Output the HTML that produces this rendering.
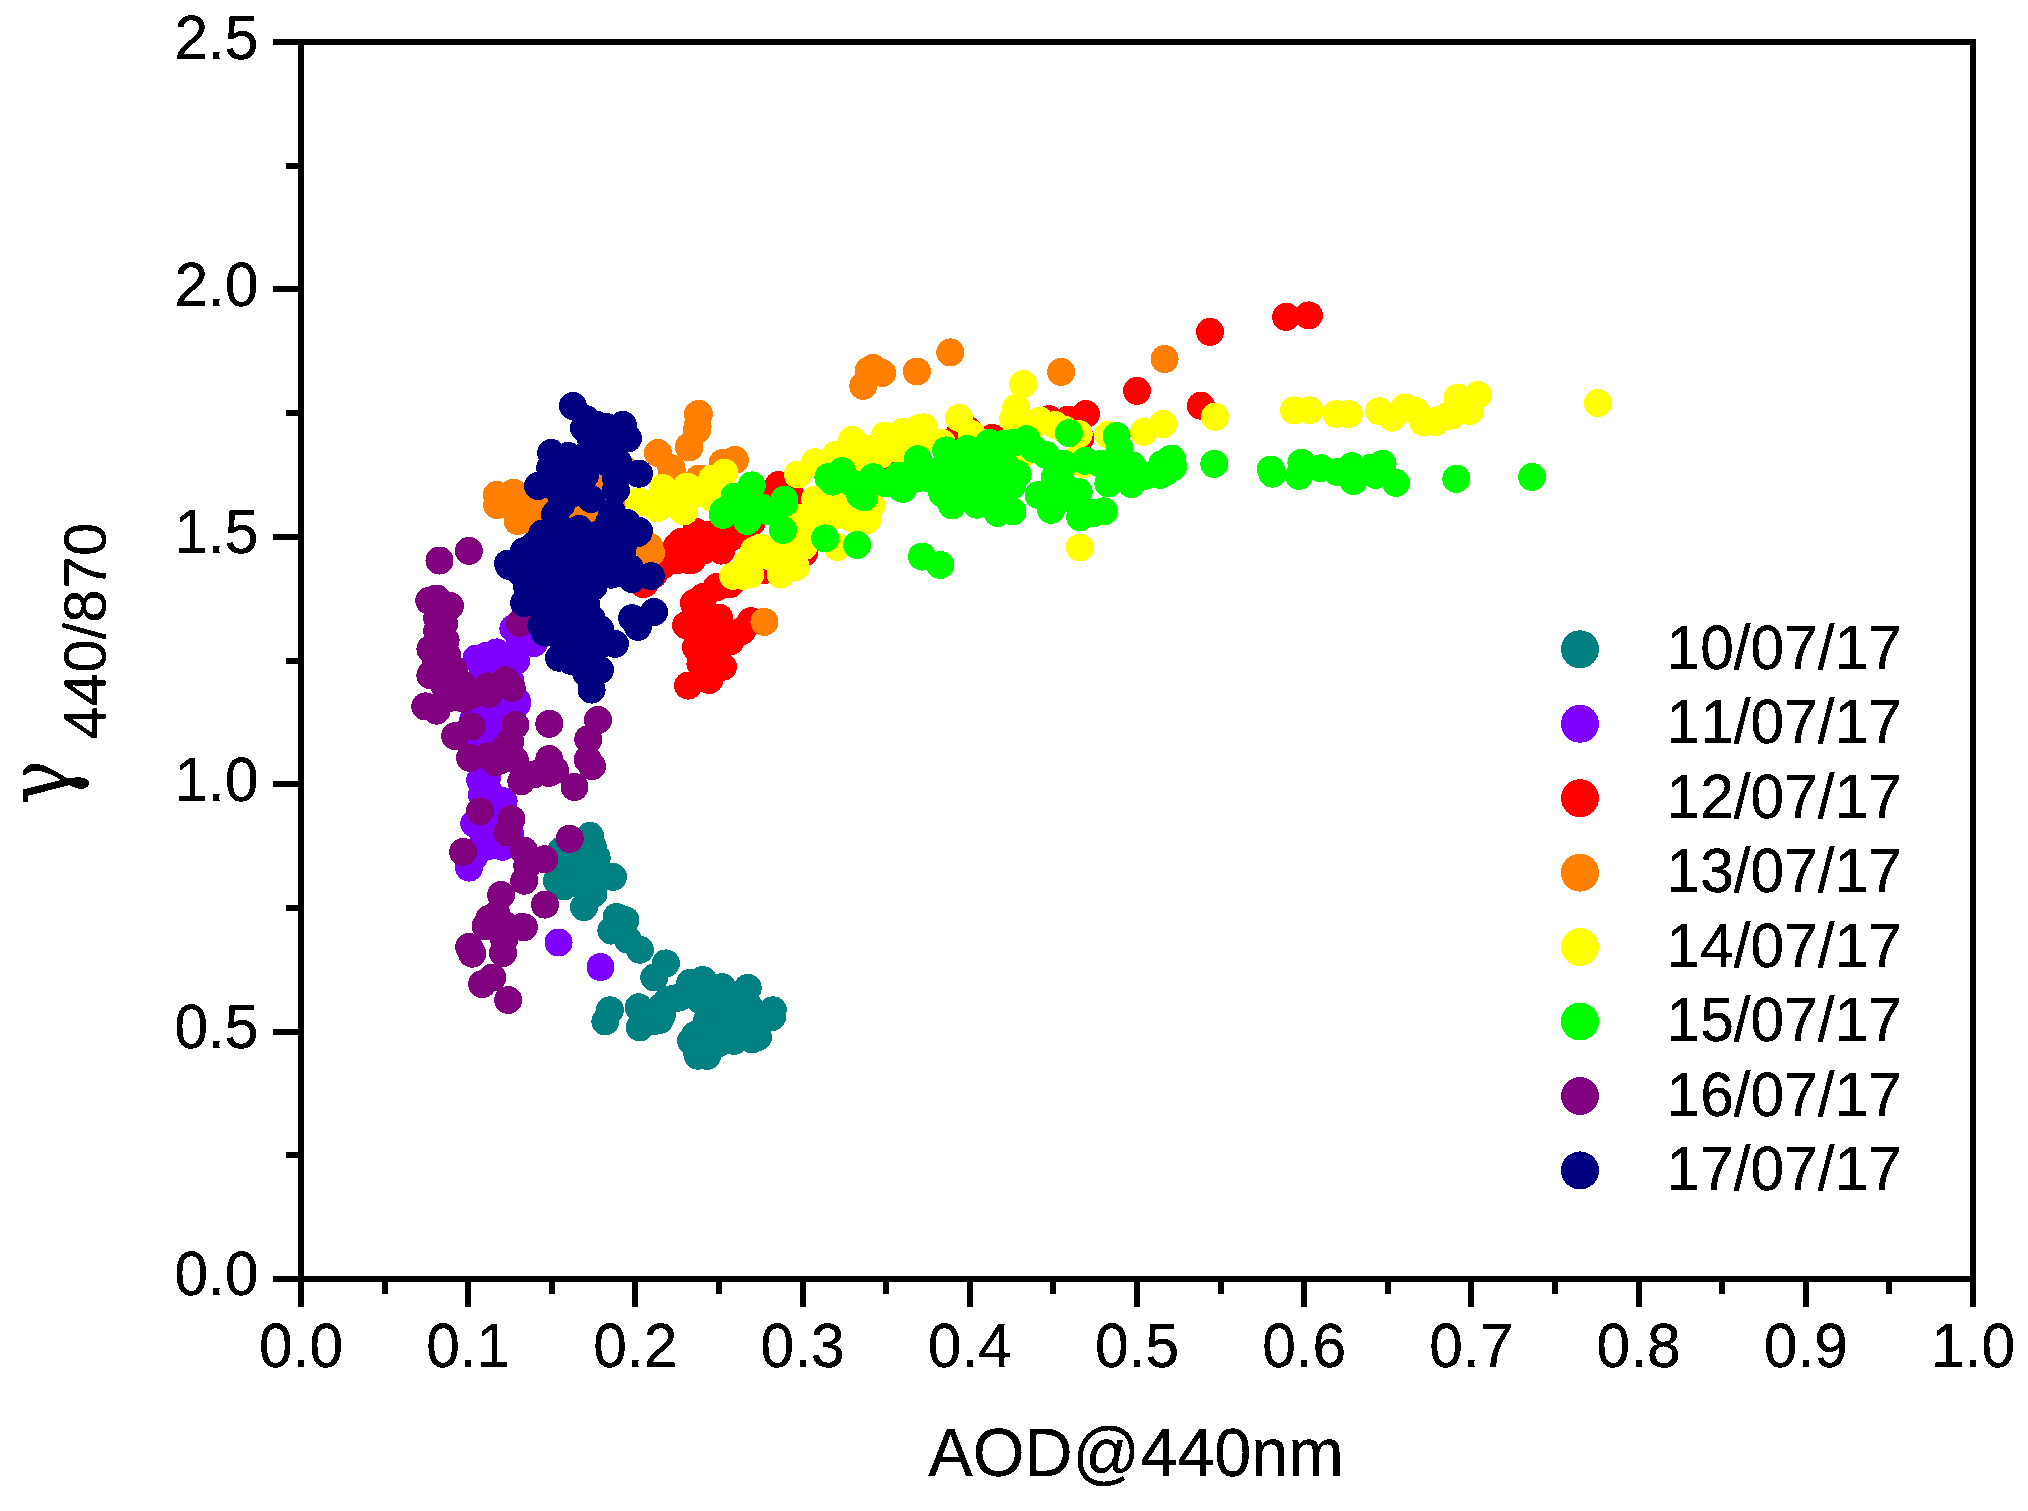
<!DOCTYPE html>
<html lang="en"><head><meta charset="utf-8"><title>AOD@440nm scatter</title>
<style>html,body{margin:0;padding:0;background:#fff}body{width:2028px;height:1511px;overflow:hidden}svg{display:block}text{font-family:"Liberation Sans",sans-serif;fill:#000;stroke:#000;stroke-width:0.3px;font-kerning:none;font-variant-ligatures:none}text.gm{font-family:"DejaVu Serif","Liberation Serif",serif}</style></head><body>
<svg width="2028" height="1511" viewBox="0 0 2028 1511" shape-rendering="crispEdges">
<rect width="2028" height="1511" fill="#fff"/>
<g fill="#008080">
<circle cx="580.9" cy="885.3" r="14"/><circle cx="563.8" cy="866.7" r="14"/><circle cx="590" cy="835.8" r="14"/><circle cx="592.8" cy="846.6" r="14"/><circle cx="596.7" cy="857.8" r="14"/><circle cx="613" cy="876.9" r="14"/><circle cx="556.9" cy="880.9" r="14"/><circle cx="561.5" cy="850.4" r="14"/><circle cx="563.8" cy="886.4" r="14"/><circle cx="584" cy="907.2" r="14"/><circle cx="593.5" cy="893.5" r="14"/><circle cx="578.7" cy="871.2" r="14"/><circle cx="571.2" cy="856.3" r="14"/><circle cx="578.7" cy="848.9" r="14"/><circle cx="575" cy="862" r="14"/><circle cx="600" cy="875" r="14"/><circle cx="616.6" cy="917" r="14"/><circle cx="625.5" cy="920.2" r="14"/><circle cx="611.4" cy="930.6" r="14"/><circle cx="639.8" cy="949.7" r="14"/><circle cx="627.8" cy="939.6" r="14"/><circle cx="665.9" cy="963.4" r="14"/><circle cx="654.3" cy="977.5" r="14"/><circle cx="609.9" cy="1010.3" r="14"/><circle cx="605.4" cy="1021.4" r="14"/><circle cx="638.7" cy="1007.3" r="14"/><circle cx="639.7" cy="1027.4" r="14"/><circle cx="653.1" cy="1021.4" r="14"/><circle cx="662" cy="1006.5" r="14"/><circle cx="672.4" cy="999.1" r="14"/><circle cx="690.3" cy="982.7" r="14"/><circle cx="691.3" cy="1041.5" r="14"/><circle cx="697.8" cy="1055.7" r="14"/><circle cx="702.7" cy="980" r="14"/><circle cx="690.8" cy="988" r="14"/><circle cx="722.1" cy="987.2" r="14"/><circle cx="747.7" cy="987.9" r="14"/><circle cx="772.8" cy="1010.3" r="14"/><circle cx="772" cy="1017" r="14"/><circle cx="758" cy="1037.1" r="14"/><circle cx="751.9" cy="1039.4" r="14"/><circle cx="740" cy="1037.8" r="14"/><circle cx="707.2" cy="1055.8" r="14"/><circle cx="717.6" cy="1043.8" r="14"/><circle cx="691" cy="1040.8" r="14"/><circle cx="696.8" cy="1051.2" r="14"/><circle cx="707" cy="1020.7" r="14"/><circle cx="695.3" cy="1034.8" r="14"/><circle cx="659.6" cy="1020" r="14"/><circle cx="667.7" cy="1000.3" r="14"/><circle cx="678.9" cy="997.6" r="14"/><circle cx="661.8" cy="1015.5" r="14"/><circle cx="719.1" cy="1006.5" r="14"/><circle cx="734" cy="999.1" r="14"/><circle cx="748.9" cy="1006.5" r="14"/><circle cx="731" cy="1021.4" r="14"/><circle cx="722.1" cy="1028.9" r="14"/><circle cx="734" cy="1040.8" r="14"/><circle cx="760" cy="1015" r="14"/><circle cx="745" cy="1022" r="14"/><circle cx="700" cy="1000" r="14"/>
</g>
<g fill="#8000ff">
<circle cx="482" cy="795" r="14"/><circle cx="475" cy="742" r="14"/><circle cx="483" cy="710" r="14"/><circle cx="476.5" cy="658.5" r="14"/><circle cx="486" cy="656" r="14"/><circle cx="513.4" cy="628.3" r="14"/><circle cx="496.8" cy="652.4" r="14"/><circle cx="534" cy="643.1" r="14"/><circle cx="517" cy="701.2" r="14"/><circle cx="516.1" cy="661" r="14"/><circle cx="492.3" cy="678.9" r="14"/><circle cx="483.4" cy="671.4" r="14"/><circle cx="496.8" cy="716.1" r="14"/><circle cx="483.4" cy="728" r="14"/><circle cx="492.3" cy="738.4" r="14"/><circle cx="473" cy="720.6" r="14"/><circle cx="520" cy="645" r="14"/><circle cx="505" cy="665" r="14"/><circle cx="500" cy="690" r="14"/><circle cx="510" cy="680" r="14"/><circle cx="517" cy="703.7" r="14"/><circle cx="492.3" cy="722.3" r="14"/><circle cx="483.4" cy="738.7" r="14"/><circle cx="480.2" cy="780.4" r="14"/><circle cx="486.9" cy="777.4" r="14"/><circle cx="503.6" cy="801.2" r="14"/><circle cx="489.3" cy="792.3" r="14"/><circle cx="474.3" cy="823.6" r="14"/><circle cx="483.4" cy="834" r="14"/><circle cx="489.3" cy="845.9" r="14"/><circle cx="502.7" cy="846.8" r="14"/><circle cx="510.2" cy="834.7" r="14"/><circle cx="469.1" cy="867.6" r="14"/><circle cx="474.4" cy="856.3" r="14"/><circle cx="483.4" cy="756.6" r="14"/><circle cx="485" cy="765" r="14"/><circle cx="495" cy="810" r="14"/><circle cx="490" cy="825" r="14"/><circle cx="558.6" cy="942.5" r="14"/><circle cx="600.5" cy="967.1" r="14"/>
</g>
<g fill="#ff0000">
<circle cx="1200.9" cy="405.7" r="14"/><circle cx="1068" cy="419.6" r="14"/><circle cx="1080.4" cy="438" r="14"/><circle cx="663" cy="565" r="14"/><circle cx="653.6" cy="574.7" r="14"/><circle cx="677" cy="560" r="14"/><circle cx="804" cy="553" r="14"/><circle cx="764" cy="570" r="14"/><circle cx="968" cy="430" r="14"/><circle cx="959" cy="435" r="14"/><circle cx="697" cy="532.5" r="14"/><circle cx="676.8" cy="546.7" r="14"/><circle cx="642.7" cy="583.9" r="14"/><circle cx="694" cy="603" r="14"/><circle cx="686.1" cy="625.3" r="14"/><circle cx="697" cy="649" r="14"/><circle cx="688.1" cy="685.6" r="14"/><circle cx="679.9" cy="547.9" r="14"/><circle cx="695.9" cy="531.9" r="14"/><circle cx="676.6" cy="550.6" r="14"/><circle cx="681.8" cy="541.7" r="14"/><circle cx="690" cy="560.3" r="14"/><circle cx="692.2" cy="559.6" r="14"/><circle cx="703.4" cy="550.6" r="14"/><circle cx="751.8" cy="522.3" r="14"/><circle cx="731.7" cy="537.2" r="14"/><circle cx="716.8" cy="544.7" r="14"/><circle cx="721.2" cy="550.6" r="14"/><circle cx="644.6" cy="583.7" r="14"/><circle cx="716.8" cy="587.1" r="14"/><circle cx="703.4" cy="596.8" r="14"/><circle cx="730.2" cy="584.1" r="14"/><circle cx="694.4" cy="604.2" r="14"/><circle cx="719" cy="617.6" r="14"/><circle cx="751" cy="621.2" r="14"/><circle cx="742.1" cy="631" r="14"/><circle cx="730.2" cy="641.4" r="14"/><circle cx="695.9" cy="647.4" r="14"/><circle cx="722.9" cy="666.7" r="14"/><circle cx="700.4" cy="663.8" r="14"/><circle cx="709.3" cy="680" r="14"/><circle cx="703.4" cy="619.1" r="14"/><circle cx="709.3" cy="634" r="14"/><circle cx="716.8" cy="648.9" r="14"/><circle cx="700.4" cy="634" r="14"/><circle cx="709.3" cy="663.8" r="14"/><circle cx="770" cy="500" r="14"/><circle cx="740" cy="528" r="14"/><circle cx="710" cy="535" r="14"/><circle cx="745" cy="515" r="14"/><circle cx="778.6" cy="485.1" r="14"/><circle cx="791.2" cy="496.5" r="14"/><circle cx="894" cy="469.7" r="14"/><circle cx="1137" cy="390.8" r="14"/><circle cx="1210" cy="331.8" r="14"/><circle cx="1085.8" cy="414" r="14"/><circle cx="1048.9" cy="419.1" r="14"/><circle cx="992.3" cy="437.9" r="14"/><circle cx="1286.2" cy="316.8" r="14"/><circle cx="1308.9" cy="315.4" r="14"/>
</g>
<g fill="#ff8000">
<circle cx="531.5" cy="499.1" r="14"/><circle cx="873.1" cy="368" r="14"/><circle cx="868.6" cy="370.7" r="14"/><circle cx="497.2" cy="505.1" r="14"/><circle cx="496.9" cy="494.9" r="14"/><circle cx="513.6" cy="492.8" r="14"/><circle cx="517.2" cy="515.2" r="14"/><circle cx="531.5" cy="520.5" r="14"/><circle cx="697.9" cy="414.5" r="14"/><circle cx="697" cy="430" r="14"/><circle cx="658" cy="452.9" r="14"/><circle cx="688.9" cy="446.7" r="14"/><circle cx="672" cy="471.7" r="14"/><circle cx="701.8" cy="478.9" r="14"/><circle cx="649.4" cy="546.7" r="14"/><circle cx="560" cy="470" r="14"/><circle cx="580" cy="480" r="14"/><circle cx="600" cy="490" r="14"/><circle cx="615" cy="500" r="14"/><circle cx="590" cy="515" r="14"/><circle cx="570" cy="505" r="14"/><circle cx="625" cy="470" r="14"/><circle cx="610" cy="480" r="14"/><circle cx="545" cy="500" r="14"/><circle cx="560" cy="520" r="14"/><circle cx="580" cy="467" r="14"/><circle cx="598" cy="485" r="14"/><circle cx="588" cy="517" r="14"/><circle cx="648.6" cy="547.9" r="14"/><circle cx="651" cy="553" r="14"/><circle cx="517.6" cy="521" r="14"/><circle cx="882.2" cy="373" r="14"/><circle cx="863.3" cy="385.8" r="14"/><circle cx="916.9" cy="371.5" r="14"/><circle cx="698.9" cy="413.9" r="14"/><circle cx="697.6" cy="426.5" r="14"/><circle cx="689.2" cy="447.5" r="14"/><circle cx="658.3" cy="453.2" r="14"/><circle cx="671.4" cy="468.2" r="14"/><circle cx="734.9" cy="460" r="14"/><circle cx="722.7" cy="463" r="14"/><circle cx="698.9" cy="478.7" r="14"/><circle cx="950.3" cy="352.4" r="14"/><circle cx="1061.1" cy="371.9" r="14"/><circle cx="1164.6" cy="359" r="14"/><circle cx="764.4" cy="621.9" r="14"/>
</g>
<g fill="#ffff00">
<circle cx="1163" cy="424" r="14"/><circle cx="1215" cy="416.7" r="14"/><circle cx="1084" cy="464" r="14"/><circle cx="852.2" cy="456.3" r="14"/><circle cx="831.4" cy="499.5" r="14"/><circle cx="670.6" cy="498" r="14"/><circle cx="768.9" cy="556" r="14"/><circle cx="662.5" cy="488" r="14"/><circle cx="686.3" cy="487.8" r="14"/><circle cx="638.7" cy="501.5" r="14"/><circle cx="656.5" cy="501.5" r="14"/><circle cx="681.5" cy="509.6" r="14"/><circle cx="684" cy="509.8" r="14"/><circle cx="733.1" cy="575.9" r="14"/><circle cx="743.6" cy="575.9" r="14"/><circle cx="750.4" cy="574.4" r="14"/><circle cx="780.8" cy="574.6" r="14"/><circle cx="795.7" cy="567" r="14"/><circle cx="754" cy="550.6" r="14"/><circle cx="768.9" cy="549.1" r="14"/><circle cx="791.2" cy="549.1" r="14"/><circle cx="804" cy="546.2" r="14"/><circle cx="837.4" cy="546.9" r="14"/><circle cx="867.1" cy="520.2" r="14"/><circle cx="871.6" cy="506" r="14"/><circle cx="813.5" cy="511.9" r="14"/><circle cx="835.9" cy="514.9" r="14"/><circle cx="850.8" cy="517.9" r="14"/><circle cx="798.7" cy="517.9" r="14"/><circle cx="761.4" cy="547.6" r="14"/><circle cx="783.8" cy="552.1" r="14"/><circle cx="806.1" cy="537.2" r="14"/><circle cx="791.2" cy="562.5" r="14"/><circle cx="746.5" cy="564" r="14"/><circle cx="663.2" cy="488.3" r="14"/><circle cx="687" cy="486.5" r="14"/><circle cx="724.2" cy="472.7" r="14"/><circle cx="712.3" cy="478.7" r="14"/><circle cx="639.4" cy="502.5" r="14"/><circle cx="703.4" cy="493.5" r="14"/><circle cx="712.3" cy="498" r="14"/><circle cx="684" cy="511.4" r="14"/><circle cx="657.2" cy="508.4" r="14"/><circle cx="797.9" cy="474.5" r="14"/><circle cx="815" cy="462.1" r="14"/><circle cx="852.2" cy="439.9" r="14"/><circle cx="885" cy="435.5" r="14"/><circle cx="902.9" cy="432.5" r="14"/><circle cx="919.2" cy="428" r="14"/><circle cx="835.9" cy="454.8" r="14"/><circle cx="867.1" cy="448.9" r="14"/><circle cx="815" cy="499.5" r="14"/><circle cx="870.7" cy="505.4" r="14"/><circle cx="843.3" cy="511.4" r="14"/><circle cx="867.1" cy="515.9" r="14"/><circle cx="828.4" cy="515.9" r="14"/><circle cx="830" cy="485" r="14"/><circle cx="850" cy="495" r="14"/><circle cx="860" cy="470" r="14"/><circle cx="880" cy="455" r="14"/><circle cx="900" cy="450" r="14"/><circle cx="810" cy="525" r="14"/><circle cx="1023.3" cy="384.1" r="14"/><circle cx="1016.1" cy="407.9" r="14"/><circle cx="1013.1" cy="419.1" r="14"/><circle cx="959" cy="417.9" r="14"/><circle cx="923.8" cy="427.3" r="14"/><circle cx="903" cy="431.8" r="14"/><circle cx="1039.9" cy="420.6" r="14"/><circle cx="1078.7" cy="434" r="14"/><circle cx="1108.4" cy="434.7" r="14"/><circle cx="1144.2" cy="431.9" r="14"/><circle cx="971.5" cy="434" r="14"/><circle cx="941.7" cy="442.9" r="14"/><circle cx="914.9" cy="448.9" r="14"/><circle cx="908.9" cy="434" r="14"/><circle cx="1022" cy="455" r="14"/><circle cx="1074" cy="461" r="14"/><circle cx="1055" cy="425" r="14"/><circle cx="1065" cy="430" r="14"/><circle cx="1030" cy="430" r="14"/><circle cx="1294" cy="410.4" r="14"/><circle cx="1309.6" cy="410.4" r="14"/><circle cx="1336.4" cy="414" r="14"/><circle cx="1348.8" cy="414" r="14"/><circle cx="1379.1" cy="411.3" r="14"/><circle cx="1392.2" cy="417.7" r="14"/><circle cx="1406.4" cy="408" r="14"/><circle cx="1416.1" cy="411" r="14"/><circle cx="1423.5" cy="422.2" r="14"/><circle cx="1438.4" cy="420" r="14"/><circle cx="1451.8" cy="415.5" r="14"/><circle cx="1457.8" cy="397.6" r="14"/><circle cx="1598" cy="403" r="14"/><circle cx="1478" cy="395" r="14"/><circle cx="1470" cy="411" r="14"/><circle cx="1447.6" cy="416.1" r="14"/><circle cx="1435.7" cy="422.1" r="14"/><circle cx="1404.5" cy="407.9" r="14"/><circle cx="1079.9" cy="547.5" r="14"/>
</g>
<g fill="#00ff00">
<circle cx="1270.9" cy="469.5" r="14"/><circle cx="1272.6" cy="473.6" r="14"/><circle cx="1162.2" cy="464.1" r="14"/><circle cx="1004" cy="444" r="14"/><circle cx="1094" cy="513" r="14"/><circle cx="860.2" cy="495" r="14"/><circle cx="970" cy="473" r="14"/><circle cx="1000" cy="477" r="14"/><circle cx="723" cy="514.9" r="14"/><circle cx="747.3" cy="521" r="14"/><circle cx="761.4" cy="507.4" r="14"/><circle cx="784.5" cy="503" r="14"/><circle cx="733.1" cy="503" r="14"/><circle cx="783" cy="529.9" r="14"/><circle cx="825.2" cy="538.4" r="14"/><circle cx="857.2" cy="545" r="14"/><circle cx="864.2" cy="497.2" r="14"/><circle cx="902.9" cy="488.8" r="14"/><circle cx="922.2" cy="556.6" r="14"/><circle cx="751.8" cy="485.4" r="14"/><circle cx="734.6" cy="496.5" r="14"/><circle cx="723.4" cy="511.4" r="14"/><circle cx="784.5" cy="499.8" r="14"/><circle cx="754" cy="508.4" r="14"/><circle cx="768.9" cy="511.4" r="14"/><circle cx="828.4" cy="477.2" r="14"/><circle cx="841.8" cy="471.2" r="14"/><circle cx="832.9" cy="481.6" r="14"/><circle cx="864.2" cy="496.5" r="14"/><circle cx="873.1" cy="477.2" r="14"/><circle cx="898.4" cy="475.7" r="14"/><circle cx="901.4" cy="488.3" r="14"/><circle cx="917.7" cy="459.3" r="14"/><circle cx="916.3" cy="478.7" r="14"/><circle cx="852.2" cy="483.1" r="14"/><circle cx="885" cy="483.1" r="14"/><circle cx="917.9" cy="459.3" r="14"/><circle cx="946.2" cy="450.4" r="14"/><circle cx="989.3" cy="442.9" r="14"/><circle cx="1026.5" cy="439.2" r="14"/><circle cx="1013.1" cy="442.9" r="14"/><circle cx="1069" cy="433.1" r="14"/><circle cx="1045.9" cy="454.8" r="14"/><circle cx="1116.6" cy="436.1" r="14"/><circle cx="1119.6" cy="448.9" r="14"/><circle cx="1085.4" cy="460.8" r="14"/><circle cx="1108.4" cy="483.4" r="14"/><circle cx="1131.5" cy="483.9" r="14"/><circle cx="1132.2" cy="465.3" r="14"/><circle cx="1170.2" cy="459.3" r="14"/><circle cx="1173.2" cy="466.7" r="14"/><circle cx="1159.8" cy="474.8" r="14"/><circle cx="1054.8" cy="477.2" r="14"/><circle cx="1017.6" cy="474.2" r="14"/><circle cx="1038.5" cy="495" r="14"/><circle cx="1078.7" cy="492.1" r="14"/><circle cx="1104" cy="511.4" r="14"/><circle cx="952.1" cy="505.4" r="14"/><circle cx="942.3" cy="493.5" r="14"/><circle cx="929.8" cy="478.7" r="14"/><circle cx="903" cy="488.3" r="14"/><circle cx="959.6" cy="463.8" r="14"/><circle cx="981.9" cy="463.8" r="14"/><circle cx="1004.2" cy="463.8" r="14"/><circle cx="967" cy="486.1" r="14"/><circle cx="989.3" cy="486.1" r="14"/><circle cx="1011.7" cy="486.1" r="14"/><circle cx="996.8" cy="500" r="14"/><circle cx="1063.8" cy="463.8" r="14"/><circle cx="937.2" cy="471.2" r="14"/><circle cx="967" cy="448.9" r="14"/><circle cx="1004.2" cy="448.9" r="14"/><circle cx="1034" cy="448.9" r="14"/><circle cx="1063.8" cy="486.1" r="14"/><circle cx="1056.3" cy="500" r="14"/><circle cx="1078.7" cy="505" r="14"/><circle cx="1101" cy="463.8" r="14"/><circle cx="1115.9" cy="466.7" r="14"/><circle cx="1145.6" cy="475.7" r="14"/><circle cx="945" cy="475" r="14"/><circle cx="980" cy="495" r="14"/><circle cx="1171.9" cy="458.6" r="14"/><circle cx="1166" cy="472" r="14"/><circle cx="1214.3" cy="463.9" r="14"/><circle cx="1301.4" cy="462.8" r="14"/><circle cx="1299.2" cy="475.8" r="14"/><circle cx="1320.8" cy="468.3" r="14"/><circle cx="1337.2" cy="472" r="14"/><circle cx="1352" cy="466.1" r="14"/><circle cx="1353.5" cy="481" r="14"/><circle cx="1371.4" cy="467.6" r="14"/><circle cx="1382.6" cy="463.9" r="14"/><circle cx="1375.9" cy="475" r="14"/><circle cx="1396" cy="482.8" r="14"/><circle cx="1456.3" cy="478.8" r="14"/><circle cx="1532.1" cy="476.9" r="14"/><circle cx="976.8" cy="504.7" r="14"/><circle cx="997.6" cy="512.9" r="14"/><circle cx="1012.5" cy="511.4" r="14"/><circle cx="1051.2" cy="509.9" r="14"/><circle cx="1080.2" cy="517.3" r="14"/><circle cx="1103.3" cy="511.4" r="14"/><circle cx="922" cy="556.5" r="14"/><circle cx="940.3" cy="565" r="14"/>
</g>
<g fill="#800080">
<circle cx="453.6" cy="670" r="14"/><circle cx="447" cy="655" r="14"/><circle cx="462" cy="684" r="14"/><circle cx="444" cy="624" r="14"/><circle cx="468.9" cy="550.9" r="14"/><circle cx="439.5" cy="560.5" r="14"/><circle cx="436.5" cy="598.5" r="14"/><circle cx="429.3" cy="600.7" r="14"/><circle cx="450" cy="605.9" r="14"/><circle cx="437.2" cy="617.8" r="14"/><circle cx="430.4" cy="649.1" r="14"/><circle cx="445.6" cy="640.2" r="14"/><circle cx="430.4" cy="675.2" r="14"/><circle cx="425.3" cy="706.4" r="14"/><circle cx="436.5" cy="710.7" r="14"/><circle cx="505.7" cy="680.4" r="14"/><circle cx="511.7" cy="687.8" r="14"/><circle cx="487.8" cy="686.3" r="14"/><circle cx="489.3" cy="693.8" r="14"/><circle cx="464" cy="698.8" r="14"/><circle cx="471.5" cy="726.5" r="14"/><circle cx="455.1" cy="736.2" r="14"/><circle cx="515.4" cy="725" r="14"/><circle cx="510.2" cy="741.4" r="14"/><circle cx="549.3" cy="723.8" r="14"/><circle cx="598" cy="720" r="14"/><circle cx="588.3" cy="739.2" r="14"/><circle cx="520" cy="623" r="14"/><circle cx="437.2" cy="631.2" r="14"/><circle cx="435.7" cy="661" r="14"/><circle cx="444.7" cy="686.3" r="14"/><circle cx="449.1" cy="698.2" r="14"/><circle cx="474.4" cy="693.8" r="14"/><circle cx="587.6" cy="759.6" r="14"/><circle cx="592.1" cy="766.2" r="14"/><circle cx="574.5" cy="786.9" r="14"/><circle cx="549.3" cy="759.1" r="14"/><circle cx="555" cy="770" r="14"/><circle cx="470.1" cy="757.8" r="14"/><circle cx="487.8" cy="756.4" r="14"/><circle cx="514.8" cy="759.6" r="14"/><circle cx="521.2" cy="781.3" r="14"/><circle cx="534" cy="774.4" r="14"/><circle cx="548.9" cy="773" r="14"/><circle cx="479.9" cy="811.4" r="14"/><circle cx="511.4" cy="819.1" r="14"/><circle cx="507.3" cy="832.5" r="14"/><circle cx="569.7" cy="838.8" r="14"/><circle cx="463.1" cy="851.9" r="14"/><circle cx="524" cy="850.7" r="14"/><circle cx="544.4" cy="859.3" r="14"/><circle cx="527.3" cy="865.3" r="14"/><circle cx="524.2" cy="880.7" r="14"/><circle cx="501.1" cy="895" r="14"/><circle cx="545" cy="904.6" r="14"/><circle cx="489.3" cy="918.7" r="14"/><circle cx="522.4" cy="926.9" r="14"/><circle cx="501" cy="760" r="14"/><circle cx="495.3" cy="762.5" r="14"/><circle cx="504.2" cy="749.1" r="14"/><circle cx="485.6" cy="926.2" r="14"/><circle cx="523.9" cy="927.3" r="14"/><circle cx="503" cy="953" r="14"/><circle cx="504.2" cy="939.6" r="14"/><circle cx="469.1" cy="947" r="14"/><circle cx="472.2" cy="953.7" r="14"/><circle cx="482.2" cy="984.2" r="14"/><circle cx="492.3" cy="977.5" r="14"/><circle cx="508.2" cy="1000" r="14"/><circle cx="496.8" cy="914.2" r="14"/><circle cx="505" cy="925" r="14"/>
</g>
<g fill="#000080">
<circle cx="612" cy="512" r="14"/><circle cx="616" cy="490.2" r="14"/><circle cx="622" cy="554" r="14"/><circle cx="618" cy="462" r="14"/><circle cx="616" cy="478" r="14"/><circle cx="586.3" cy="419.3" r="14"/><circle cx="611.4" cy="574.7" r="14"/><circle cx="620.3" cy="559.8" r="14"/><circle cx="521.3" cy="573.2" r="14"/><circle cx="551.9" cy="598.5" r="14"/><circle cx="592" cy="619.3" r="14"/><circle cx="600.2" cy="644.6" r="14"/><circle cx="586.1" cy="672.9" r="14"/><circle cx="630" cy="568" r="14"/><circle cx="572.9" cy="406" r="14"/><circle cx="622.9" cy="424.9" r="14"/><circle cx="627.9" cy="438.4" r="14"/><circle cx="597" cy="425" r="14"/><circle cx="606.5" cy="427" r="14"/><circle cx="584" cy="428" r="14"/><circle cx="591" cy="439.6" r="14"/><circle cx="551.1" cy="452.9" r="14"/><circle cx="568.4" cy="455.9" r="14"/><circle cx="550.2" cy="468.1" r="14"/><circle cx="538" cy="486" r="14"/><circle cx="554.9" cy="514.6" r="14"/><circle cx="542.2" cy="533.6" r="14"/><circle cx="524" cy="551.2" r="14"/><circle cx="509" cy="565.8" r="14"/><circle cx="639" cy="473.7" r="14"/><circle cx="639" cy="530.9" r="14"/><circle cx="606.5" cy="439.6" r="14"/><circle cx="602.9" cy="453.8" r="14"/><circle cx="585.1" cy="456.2" r="14"/><circle cx="567.2" cy="470.5" r="14"/><circle cx="585.1" cy="475.3" r="14"/><circle cx="608.9" cy="463.4" r="14"/><circle cx="555.3" cy="487.2" r="14"/><circle cx="573.1" cy="493.1" r="14"/><circle cx="591" cy="499.1" r="14"/><circle cx="561.2" cy="505.1" r="14"/><circle cx="608.9" cy="522.9" r="14"/><circle cx="579.1" cy="528.9" r="14"/><circle cx="597" cy="534.8" r="14"/><circle cx="561.2" cy="528.9" r="14"/><circle cx="543.4" cy="546.7" r="14"/><circle cx="567.2" cy="546.7" r="14"/><circle cx="591" cy="546.7" r="14"/><circle cx="614.8" cy="546.7" r="14"/><circle cx="626.7" cy="534.8" r="14"/><circle cx="626.7" cy="522.9" r="14"/><circle cx="508.1" cy="563.5" r="14"/><circle cx="524.8" cy="551.1" r="14"/><circle cx="527.1" cy="586.6" r="14"/><circle cx="524.2" cy="603.2" r="14"/><circle cx="541.4" cy="625.3" r="14"/><circle cx="545.2" cy="632.7" r="14"/><circle cx="559.1" cy="657.7" r="14"/><circle cx="600" cy="669.9" r="14"/><circle cx="591.6" cy="689.6" r="14"/><circle cx="600.2" cy="629.2" r="14"/><circle cx="615" cy="643.9" r="14"/><circle cx="632.1" cy="618.1" r="14"/><circle cx="654" cy="612" r="14"/><circle cx="637.8" cy="626.8" r="14"/><circle cx="650.9" cy="576.2" r="14"/><circle cx="638.2" cy="533" r="14"/><circle cx="586.1" cy="604.4" r="14"/><circle cx="593.5" cy="586.6" r="14"/><circle cx="620.3" cy="573.2" r="14"/><circle cx="534" cy="544.9" r="14"/><circle cx="556.3" cy="544.9" r="14"/><circle cx="578.7" cy="544.9" r="14"/><circle cx="601" cy="544.9" r="14"/><circle cx="623.3" cy="544.9" r="14"/><circle cx="534" cy="567.2" r="14"/><circle cx="556.3" cy="567.2" r="14"/><circle cx="578.7" cy="567.2" r="14"/><circle cx="601" cy="567.2" r="14"/><circle cx="623.3" cy="567.2" r="14"/><circle cx="541.4" cy="589.6" r="14"/><circle cx="563.8" cy="589.6" r="14"/><circle cx="586.1" cy="589.6" r="14"/><circle cx="632.2" cy="579.1" r="14"/><circle cx="541.4" cy="607.4" r="14"/><circle cx="563.8" cy="607.4" r="14"/><circle cx="578.7" cy="607.4" r="14"/><circle cx="556.3" cy="626.8" r="14"/><circle cx="578.7" cy="626.8" r="14"/><circle cx="563.8" cy="646.1" r="14"/><circle cx="586.1" cy="646.1" r="14"/><circle cx="571.2" cy="661" r="14"/><circle cx="590.6" cy="656.5" r="14"/>
</g>
<g stroke="#000" stroke-width="6" fill="none" stroke-linecap="butt">
<rect x="301" y="42" width="1672" height="1237"/>
<path d="M301 1279V1307M384.6 1279V1294M468.2 1279V1307M551.8 1279V1294M635.4 1279V1307M719 1279V1294M802.6 1279V1307M886.2 1279V1294M969.8 1279V1307M1053.4 1279V1294M1137 1279V1307M1220.6 1279V1294M1304.2 1279V1307M1387.8 1279V1294M1471.4 1279V1307M1555 1279V1294M1638.6 1279V1307M1722.2 1279V1294M1805.8 1279V1307M1889.4 1279V1294M1973 1279V1307M301 1279H273M301 1155.3H286M301 1031.6H273M301 907.9H286M301 784.2H273M301 660.5H286M301 536.8H273M301 413.1H286M301 289.4H273M301 165.7H286M301 42H273"/>
</g>
<defs><filter id="bw" filterUnits="userSpaceOnUse" x="0" y="0" width="2028" height="1511" color-interpolation-filters="sRGB"><feComponentTransfer><feFuncA type="discrete" tableValues="0 1"/></feComponentTransfer></filter></defs>
<g filter="url(#bw)">
<text transform="translate(301 1366.5) scale(1 1.03)" font-size="60.5" text-anchor="middle">0.0</text>
<text transform="translate(468.2 1366.5) scale(1 1.03)" font-size="60.5" text-anchor="middle">0.1</text>
<text transform="translate(635.4 1366.5) scale(1 1.03)" font-size="60.5" text-anchor="middle">0.2</text>
<text transform="translate(802.6 1366.5) scale(1 1.03)" font-size="60.5" text-anchor="middle">0.3</text>
<text transform="translate(969.8 1366.5) scale(1 1.03)" font-size="60.5" text-anchor="middle">0.4</text>
<text transform="translate(1137 1366.5) scale(1 1.03)" font-size="60.5" text-anchor="middle">0.5</text>
<text transform="translate(1304.2 1366.5) scale(1 1.03)" font-size="60.5" text-anchor="middle">0.6</text>
<text transform="translate(1471.4 1366.5) scale(1 1.03)" font-size="60.5" text-anchor="middle">0.7</text>
<text transform="translate(1638.6 1366.5) scale(1 1.03)" font-size="60.5" text-anchor="middle">0.8</text>
<text transform="translate(1805.8 1366.5) scale(1 1.03)" font-size="60.5" text-anchor="middle">0.9</text>
<text transform="translate(1973 1366.5) scale(1 1.03)" font-size="60.5" text-anchor="middle">1.0</text>
<text transform="translate(258.5 1295.5) scale(1 1.03)" font-size="60.5" text-anchor="end">0.0</text>
<text transform="translate(258.5 1048.1) scale(1 1.03)" font-size="60.5" text-anchor="end">0.5</text>
<text transform="translate(258.5 800.7) scale(1 1.03)" font-size="60.5" text-anchor="end">1.0</text>
<text transform="translate(258.5 553.3) scale(1 1.03)" font-size="60.5" text-anchor="end">1.5</text>
<text transform="translate(258.5 305.9) scale(1 1.03)" font-size="60.5" text-anchor="end">2.0</text>
<text transform="translate(258.5 58.5) scale(1 1.03)" font-size="60.5" text-anchor="end">2.5</text>
<text transform="translate(1136 1476.5) scale(1 1.025)" font-size="66.6" text-anchor="middle">AOD@440nm</text>
<g transform="translate(69.6 804.5) rotate(-90)"><text class="gm" transform="scale(0.845 1.02)" font-size="88">γ</text><text x="65" y="36.3" font-size="60">440/870</text></g>

</g>
<g filter="url(#bw)">
<text transform="translate(1666.5 668.9) scale(1 1.025)" font-size="60.5" text-anchor="start">10/07/17</text>
<text transform="translate(1666.5 743.35) scale(1 1.025)" font-size="60.5" text-anchor="start">11/07/17</text>
<text transform="translate(1666.5 817.8) scale(1 1.025)" font-size="60.5" text-anchor="start">12/07/17</text>
<text transform="translate(1666.5 892.25) scale(1 1.025)" font-size="60.5" text-anchor="start">13/07/17</text>
<text transform="translate(1666.5 966.7) scale(1 1.025)" font-size="60.5" text-anchor="start">14/07/17</text>
<text transform="translate(1666.5 1041.15) scale(1 1.025)" font-size="60.5" text-anchor="start">15/07/17</text>
<text transform="translate(1666.5 1115.6) scale(1 1.025)" font-size="60.5" text-anchor="start">16/07/17</text>
<text transform="translate(1666.5 1190.05) scale(1 1.025)" font-size="60.5" text-anchor="start">17/07/17</text>
</g>
<circle cx="1580" cy="649.3" r="19" fill="#008080"/>
<circle cx="1580" cy="723.75" r="19" fill="#8000ff"/>
<circle cx="1580" cy="798.2" r="19" fill="#ff0000"/>
<circle cx="1580" cy="872.65" r="19" fill="#ff8000"/>
<circle cx="1580" cy="947.1" r="19" fill="#ffff00"/>
<circle cx="1580" cy="1021.55" r="19" fill="#00ff00"/>
<circle cx="1580" cy="1096" r="19" fill="#800080"/>
<circle cx="1580" cy="1170.45" r="19" fill="#000080"/>
</svg></body></html>
